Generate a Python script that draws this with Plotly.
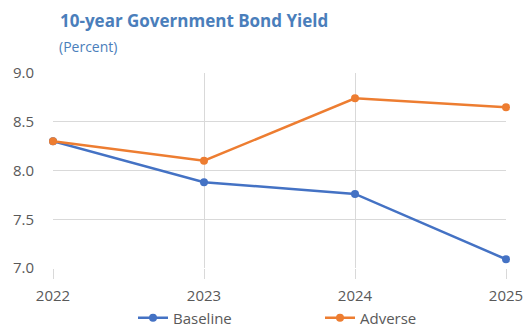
import plotly.graph_objects as go

years = [2022, 2023, 2024, 2025]
baseline = [8.30, 7.88, 7.76, 7.09]
adverse = [8.30, 8.10, 8.74, 8.65]
y_ticks = [7.0, 7.5, 8.0, 8.5, 9.0]

blue = "#4472C4"
orange = "#ED7D31"
grid = "#D9D9D9"
text_color = "#595959"
font = "Open Sans"

W, H = 529, 328
M = dict(l=53, r=23, t=73, b=60)
pw = W - M["l"] - M["r"]
ph = H - M["t"] - M["b"]

fig = go.Figure()
fig.add_trace(go.Scatter(
    x=years, y=baseline, name="Baseline", mode="lines+markers",
    line=dict(color=blue, width=2.5), marker=dict(size=8, color=blue),
    cliponaxis=False,
))
fig.add_trace(go.Scatter(
    x=years, y=adverse, name="Adverse", mode="lines+markers",
    line=dict(color=orange, width=2.5), marker=dict(size=8, color=orange),
    cliponaxis=False,
))

fig.update_layout(
    width=W, height=H,
    margin=dict(**M, autoexpand=False),
    paper_bgcolor="white", plot_bgcolor="white",
    font=dict(family=font, size=15, color=text_color),
    showlegend=True,
    legend=dict(orientation="h", xref="container", x=133 / W, xanchor="left",
                yref="container", y=10 / H, yanchor="middle",
                font=dict(size=15, color=text_color), itemwidth=30,
                entrywidth=142, traceorder="normal"),
    annotations=[
        dict(text="<b>10-year Government Bond Yield</b>", x=(58 - M["l"]) / pw,
             y=1 + (M["t"] - 20) / ph, xref="paper", yref="paper",
             xanchor="left", yanchor="middle", showarrow=False,
             font=dict(family=font, size=17, color="#4A7EBB")),
        dict(text="(Percent)", x=(57 - M["l"]) / pw, y=1 + (M["t"] - 46) / ph,
             xref="paper", yref="paper", xanchor="left", yanchor="middle",
             showarrow=False, font=dict(family=font, size=14, color="#4A7EBB")),
    ],
)

fig.update_xaxes(
    range=[2022, 2025], tickvals=years, ticktext=[str(y) for y in years],
    showgrid=True, gridcolor=grid, gridwidth=1,
    ticks="outside", ticklen=10, tickcolor=grid, tickwidth=1,
    ticklabelstandoff=4,
    showline=False, zeroline=False, automargin=False,
    tickfont=dict(size=15, color=text_color),
)
fig.update_yaxes(
    range=[7.0, 9.0], tickvals=y_ticks, ticktext=[f"{v:.1f}" for v in y_ticks],
    showgrid=True, gridcolor=grid, gridwidth=1,
    ticks="", ticklabelstandoff=18, showline=False, zeroline=False,
    automargin=False, tickfont=dict(size=15, color=text_color),
)

fig.write_html("out.html")
